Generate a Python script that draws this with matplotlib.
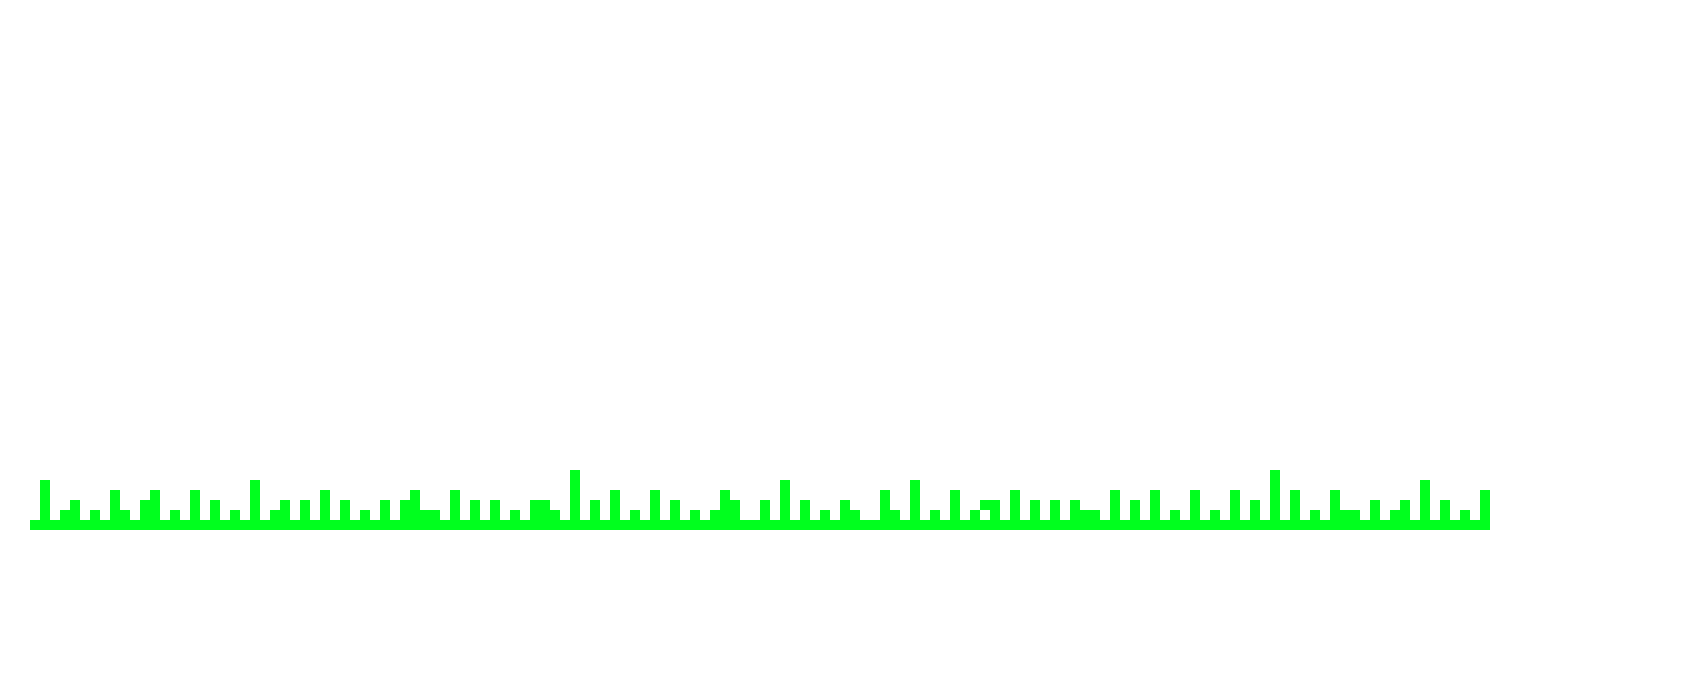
import matplotlib
matplotlib.use("Agg")
import matplotlib.pyplot as plt

# bar heights (one cell = 1)
heights = [
    1, 5, 1, 2, 3, 1, 2, 1, 4, 2, 1, 3, 4, 1, 2, 1, 4, 1, 3, 1, 2, 1, 5, 1, 2, 3,
    1, 3, 1, 4, 1, 3, 1, 2, 1, 3, 1, 3, 4, 2, 2, 1, 4, 1, 3, 1, 3, 1, 2, 1, 3, 3, 2, 1, 6,
    1, 3, 1, 4, 1, 2, 1, 4, 1, 3, 1, 2, 1, 2, 4, 3, 1, 1, 3, 1, 5, 1, 3, 1, 2, 1, 3, 2, 1,
    1, 4, 2, 1, 5, 1, 2, 1, 4, 1, 2, 1, 3, 1, 4, 1, 3, 1, 3, 1, 3, 2, 2, 1, 4, 1, 3, 1, 4,
    1, 2, 1, 4, 1, 2, 1, 4, 1, 3, 1, 6, 1, 4, 1, 2, 1, 4, 2, 2, 1, 3, 1, 2, 3, 1, 5, 1, 3, 1, 2, 1, 4,
]
positions = list(range(len(heights)))

# one floating cell sitting above a gap
float_pos = [95]
float_bottom = [2]
float_height = [1]

green = "#00ff1e"

fig = plt.figure(figsize=(17, 6.9), dpi=100)
ax = fig.add_axes([30 / 1700, 160 / 690, 1460 / 1700, 60 / 690])

ax.bar(positions, heights, width=1.0, color=green, linewidth=0, antialiased=False)
ax.bar(float_pos, float_height, bottom=float_bottom, width=1.0,
       color=green, linewidth=0, antialiased=False)

ax.set_xlim(-0.5, len(heights) - 0.5)
ax.set_ylim(0, 6)
ax.axis("off")

fig.savefig("out.png", dpi=100, facecolor="white")
